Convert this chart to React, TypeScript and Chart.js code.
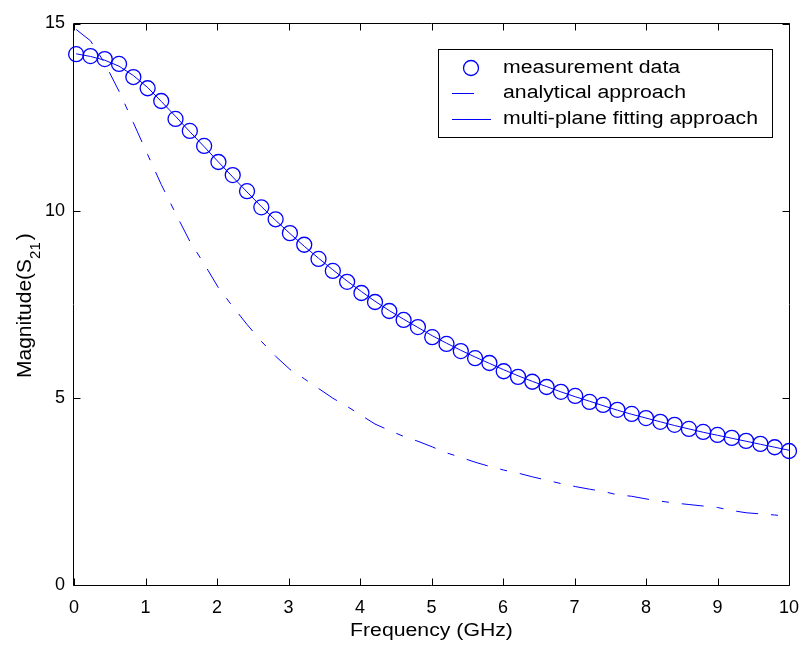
import React, { useEffect, useRef } from "react";
import { Chart, registerables } from "chart.js";

Chart.register(...registerables);

// ---------- data ----------
const frequency = [
  0.03, 0.23, 0.43, 0.63, 0.83, 1.03, 1.22, 1.42, 1.62, 1.82, 2.02, 2.22, 2.42,
  2.62, 2.82, 3.02, 3.22, 3.42, 3.62, 3.82, 4.02, 4.21, 4.41, 4.61, 4.81, 5.01,
  5.21, 5.41, 5.61, 5.81, 6.01, 6.21, 6.41, 6.61, 6.81, 7.01, 7.21, 7.4, 7.6,
  7.8, 8.0, 8.2, 8.4, 8.6, 8.8, 9.0, 9.2, 9.4, 9.6, 9.8, 10.0,
];

const measurement = [
  14.18, 14.13, 14.05, 13.92, 13.57, 13.27, 12.93, 12.45, 12.13, 11.73, 11.3,
  10.95, 10.52, 10.09, 9.77, 9.4, 9.09, 8.71, 8.39, 8.1, 7.8, 7.56, 7.32, 7.08,
  6.89, 6.62, 6.44, 6.25, 6.06, 5.93, 5.71, 5.56, 5.43, 5.29, 5.16, 5.05, 4.89,
  4.81, 4.68, 4.57, 4.46, 4.36, 4.28, 4.17, 4.09, 4.01, 3.93, 3.85, 3.77, 3.68, 3.58,
];

const analytical = [
  14.84, 14.54, 13.94, 13.19, 12.35, 11.5, 10.7, 9.93, 9.18, 8.58, 7.94, 7.44,
  6.96, 6.51, 6.11, 5.76, 5.51, 5.25, 4.99, 4.77, 4.53, 4.3, 4.13, 3.97, 3.84,
  3.69, 3.53, 3.41, 3.28, 3.17, 3.07, 2.99, 2.89, 2.8, 2.71, 2.63, 2.56, 2.5,
  2.41, 2.37, 2.3, 2.24, 2.19, 2.15, 2.11, 2.07, 1.99, 1.93, 1.9, 1.87, 1.83,
];

const multiPlane = [
  14.19, 14.12, 14.02, 13.86, 13.61, 13.29, 12.92, 12.52, 12.11, 11.71, 11.3,
  10.9, 10.5, 10.11, 9.74, 9.39, 9.05, 8.73, 8.42, 8.12, 7.84, 7.58, 7.33, 7.1,
  6.88, 6.66, 6.46, 6.27, 6.09, 5.92, 5.75, 5.59, 5.44, 5.3, 5.16, 5.03, 4.91,
  4.79, 4.67, 4.56, 4.46, 4.36, 4.26, 4.17, 4.08, 4.0, 3.92, 3.84, 3.76, 3.68, 3.6,
];

const xTicks = [0, 1, 2, 3, 4, 5, 6, 7, 8, 9, 10];
const yTicks = [0, 5, 10, 15];

const seriesLabels = [
  "measurement data",
  "analytical approach",
  "multi-plane fitting approach",
];

const xTitle = "Frequency (GHz)";
const yTitleMain = "Magnitude(S";
const yTitleSub = "21";
const yTitleEnd = ")";

// ---------- styles ----------
const BLUE = "#0000ff";
const FONT = "'Liberation Sans', Arial, Helvetica, sans-serif";
const DASH_DOT = [22, 13, 7, 13];
const TEXT_STRETCH = 1.18;

const framePlugin = {
  id: "matlabFrame",
  afterDraw(chart: any) {
    const { ctx, chartArea, scales } = chart;
    const { left, right, top, bottom } = chartArea;
    const L = Math.floor(left) - 0.5;
    const R = Math.floor(right) + 0.5;
    const T = Math.floor(top) + 0.5;
    const B = Math.floor(bottom) + 0.5;
    const tick = 7;

    ctx.save();
    ctx.strokeStyle = "#000";
    ctx.lineWidth = 1;
    ctx.beginPath();
    ctx.rect(L, T, R - L, B - T);
    xTicks.forEach((v) => {
      const px = Math.round(scales.x.getPixelForValue(v)) + 0.5;
      ctx.moveTo(px, B);
      ctx.lineTo(px, B - tick);
      ctx.moveTo(px, T);
      ctx.lineTo(px, T + tick);
    });
    yTicks.forEach((v) => {
      const py = Math.round(scales.y.getPixelForValue(v)) + 0.5;
      ctx.moveTo(L, py);
      ctx.lineTo(L + tick, py);
      ctx.moveTo(R, py);
      ctx.lineTo(R - tick, py);
    });
    ctx.stroke();

    // x title
    ctx.fillStyle = "#000";
    ctx.font = `18px ${FONT}`;
    ctx.textBaseline = "alphabetic";
    ctx.textAlign = "center";
    ctx.save();
    ctx.translate((left + right) / 2, 636);
    ctx.scale(TEXT_STRETCH, 1);
    ctx.fillText(xTitle, 0, 0);
    ctx.restore();

    // y title (rotated, with subscript)
    ctx.save();
    ctx.translate(31, 378);
    ctx.rotate(-Math.PI / 2);
    ctx.textAlign = "left";
    ctx.font = `21px ${FONT}`;
    let cx = 0;
    ctx.fillText(yTitleMain, cx, 0);
    cx += ctx.measureText(yTitleMain).width;
    ctx.font = `15px ${FONT}`;
    ctx.fillText(yTitleSub, cx, 9);
    cx += ctx.measureText(yTitleSub).width + 2;
    ctx.font = `21px ${FONT}`;
    ctx.fillText(yTitleEnd, cx, 0);
    ctx.restore();

    // legend
    const bx = 438.5, by = 49.5, bw = 334, bh = 88;
    ctx.fillStyle = "#fff";
    ctx.fillRect(bx, by, bw, bh);
    ctx.strokeStyle = "#000";
    ctx.strokeRect(bx, by, bw, bh);

    const rows = [68, 93, 119];
    const ds = chart.data.datasets;
    ds.forEach((d: any, i: number) => {
      const y = rows[i];
      ctx.save();
      ctx.strokeStyle = BLUE;
      if (i === 0) {
        ctx.lineWidth = 1.3;
        ctx.beginPath();
        ctx.arc(471, y, 7.5, 0, Math.PI * 2);
        ctx.stroke();
      } else {
        ctx.lineWidth = 1;
        ctx.setLineDash(d.borderDash || []);
        ctx.beginPath();
        ctx.moveTo(452, y + 0.5);
        ctx.lineTo(i === 1 ? 478 : 491, y + 0.5);
        ctx.stroke();
      }
      ctx.restore();
      ctx.save();
      ctx.fillStyle = "#000";
      ctx.font = `18px ${FONT}`;
      ctx.textAlign = "left";
      ctx.textBaseline = "middle";
      ctx.translate(503, y);
      ctx.scale(TEXT_STRETCH, 1);
      ctx.fillText(d.label, 0, 0);
      ctx.restore();
    });
    ctx.restore();
  },
};

export default function App() {
  const canvasRef = useRef<HTMLCanvasElement | null>(null);

  useEffect(() => {
    if (!canvasRef.current) return;
    const pts = (ys: number[]) => frequency.map((f, i) => ({ x: f, y: ys[i] }));
    const chart = new Chart(canvasRef.current, {
      type: "scatter",
      data: {
        datasets: [
          {
            label: seriesLabels[0],
            data: pts(measurement),
            showLine: false,
            pointStyle: "circle",
            pointRadius: 7.5,
            pointBorderWidth: 1.3,
            pointBorderColor: BLUE,
            pointBackgroundColor: "rgba(0,0,0,0)",
            clip: false,
          } as any,
          {
            label: seriesLabels[1],
            data: pts(analytical),
            showLine: true,
            borderColor: BLUE,
            borderWidth: 1,
            borderDash: DASH_DOT,
            pointRadius: 0,
            tension: 0,
            clip: false,
          } as any,
          {
            label: seriesLabels[2],
            data: pts(multiPlane),
            showLine: true,
            borderColor: BLUE,
            borderWidth: 1,
            pointRadius: 0,
            tension: 0,
            clip: false,
          } as any,
        ],
      },
      options: {
        responsive: false,
        animation: false,
        events: [],
        layout: { padding: { top: 23.5, right: 14, left: 0, bottom: 0 } },
        plugins: {
          legend: { display: false },
          tooltip: { enabled: false },
          title: { display: false },
        },
        scales: {
          x: {
            type: "linear",
            min: 0,
            max: 10,
            afterBuildTicks: (s: any) => {
              s.ticks = xTicks.map((v) => ({ value: v }));
            },
            afterFit: (s: any) => {
              s.height = 61;
              s.paddingLeft = 0;
              s.paddingRight = 0;
              s.paddingTop = 0;
              s.paddingBottom = 0;
            },
            ticks: {
              color: "#000",
              padding: 12,
              maxRotation: 0,
              autoSkip: false,
              font: { family: FONT, size: 18 },
            },
            grid: { display: false, drawTicks: false },
            border: { display: false },
          },
          y: {
            type: "linear",
            min: 0,
            max: 15,
            afterBuildTicks: (s: any) => {
              s.ticks = yTicks.map((v) => ({ value: v }));
            },
            afterFit: (s: any) => {
              s.width = 74;
              s.paddingLeft = 0;
              s.paddingRight = 0;
              s.paddingTop = 0;
              s.paddingBottom = 0;
            },
            ticks: {
              color: "#000",
              padding: 9,
              autoSkip: false,
              font: { family: FONT, size: 18 },
            },
            grid: { display: false, drawTicks: false },
            border: { display: false },
          },
        },
      } as any,
      plugins: [framePlugin],
    });
    return () => chart.destroy();
  }, []);

  return (
    <div style={{ position: "absolute", left: 0, top: 0, width: 803, height: 646, background: "#fff" }}>
      <canvas ref={canvasRef} width={803} height={646} style={{ display: "block" }} />
    </div>
  );
}
